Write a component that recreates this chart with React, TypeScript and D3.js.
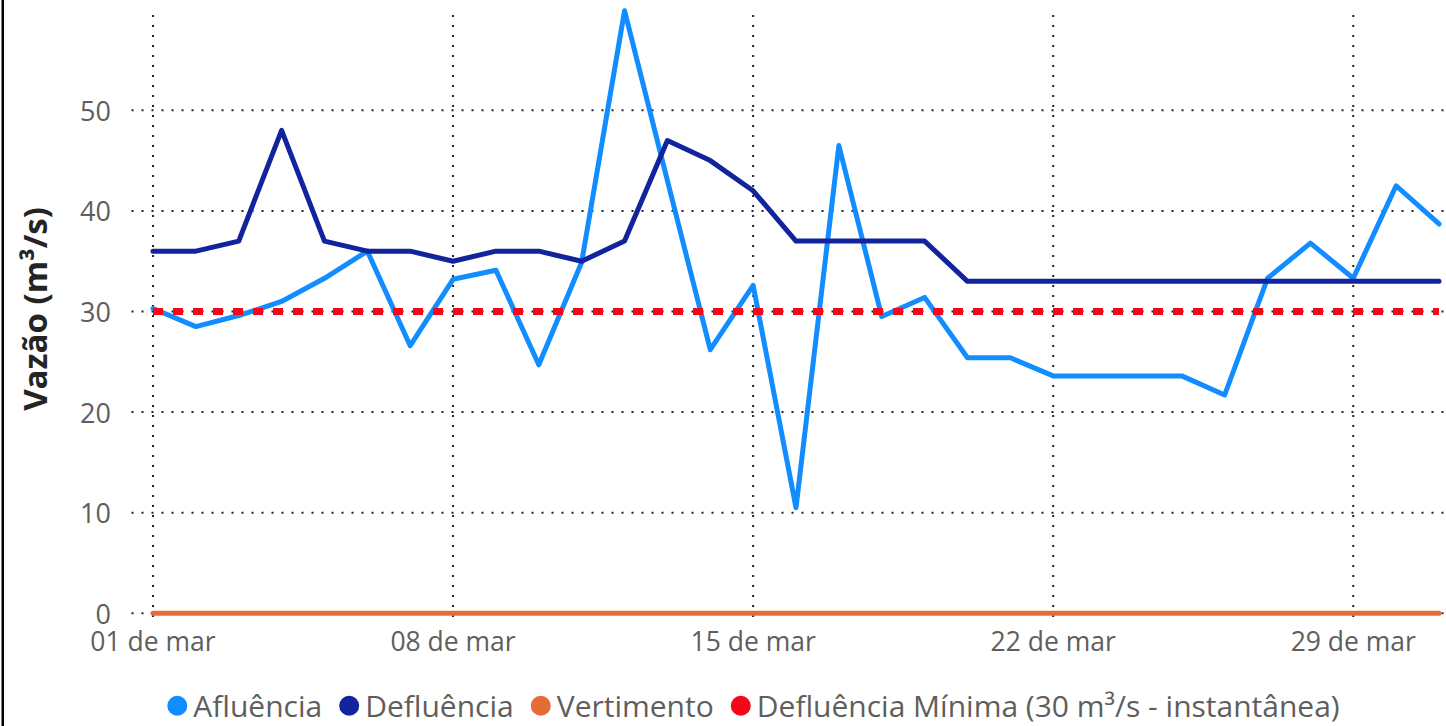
import React, { useEffect, useRef } from "react";
import * as d3 from "d3";

const days = [1, 2, 3, 4, 5, 6, 7, 8, 9, 10, 11, 12, 13, 14, 15, 16, 17, 18, 19, 20, 21, 22, 23, 24, 25, 26, 27, 28, 29, 30, 31];
const afluencia = [30.3, 28.5, 29.6, 31.0, 33.3, 36.0, 26.6, 33.2, 34.1, 24.7, 34.9, 59.9, 43.0, 26.2, 32.6, 10.5, 46.5, 29.5, 31.4, 25.4, 25.4, 23.6, 23.6, 23.6, 23.6, 21.7, 33.3, 36.8, 33.3, 42.5, 38.7];
const defluencia = [36, 36, 37, 48, 37, 36, 36, 35, 36, 36, 35, 37, 47, 45, 42, 37, 37, 37, 37, 33, 33, 33, 33, 33, 33, 33, 33, 33, 33, 33, 33];
const vertimento = [0, 0, 0, 0, 0, 0, 0, 0, 0, 0, 0, 0, 0, 0, 0, 0, 0, 0, 0, 0, 0, 0, 0, 0, 0, 0, 0, 0, 0, 0, 0];
const defluenciaMinima = [30, 30, 30, 30, 30, 30, 30, 30, 30, 30, 30, 30, 30, 30, 30, 30, 30, 30, 30, 30, 30, 30, 30, 30, 30, 30, 30, 30, 30, 30, 30];
const yTicks = [0, 10, 20, 30, 40, 50];
const xTickDays = [1, 8, 15, 22, 29];
const seriesNames = ["Afluência", "Defluência", "Vertimento", "Defluência Mínima (30 m³/s - instantânea)"];
const seriesColors = ["#118DFF", "#12239E", "#E66C37", "#F5071A"];
const yTitle = "Vazão (m³/s)";

const W = 1446;
const H = 726;
const FONT = "'Open Sans', 'Noto Sans', sans-serif";

export default function App() {
  const ref = useRef<SVGSVGElement>(null);

  useEffect(() => {
    const svg = d3.select(ref.current);
    svg.selectAll("*").remove();

    const date = (d: number) => new Date(Date.UTC(2024, 2, d));
    const x = d3.scaleUtc().domain([date(1), date(31)]).range([153, 1439]);
    const y = d3.scaleLinear().domain([0, 60]).range([613.3, 9.7]);

    svg.append("rect").attr("width", W).attr("height", H).attr("fill", "#fff");
    svg.append("rect").attr("x", 1.5).attr("y", 0).attr("width", 2.5).attr("height", H).attr("fill", "#000");

    // gridlines
    const grid = svg.append("g");
    grid.selectAll("line.h").data(yTicks).join("line")
      .attr("x1", 131.5).attr("x2", W)
      .attr("y1", (d) => y(d)).attr("y2", (d) => y(d))
      .attr("stroke", "#222").attr("stroke-width", 2).attr("stroke-dasharray", "2 8");
    grid.selectAll("line.v").data(xTickDays).join("line")
      .attr("x1", (d) => x(date(d))).attr("x2", (d) => x(date(d)))
      .attr("y1", 15).attr("y2", 617)
      .attr("stroke", "#222").attr("stroke-width", 2).attr("stroke-dasharray", "2 8");

    // y tick labels
    svg.append("g").selectAll("text").data(yTicks).join("text")
      .attr("x", 111).attr("y", (d) => y(d))
      .attr("text-anchor", "end").attr("dominant-baseline", "central")
      .attr("font-family", FONT).attr("font-size", 27).attr("fill", "#605E5C")
      .text((d) => d3.format("d")(d));

    // x tick labels
    svg.append("g").selectAll("text").data(xTickDays).join("text")
      .attr("x", (d) => x(date(d))).attr("y", 651)
      .attr("text-anchor", "middle")
      .attr("font-family", FONT).attr("font-size", 26.5).attr("fill", "#605E5C")
      .text((d) => d3.utcFormat("%d")(date(d)) + " de mar");

    // y title
    svg.append("text")
      .attr("transform", `translate(47,309) rotate(-90)`)
      .attr("text-anchor", "middle")
      .attr("font-family", FONT).attr("font-size", 33).attr("font-weight", "bold").attr("fill", "#252423")
      .text(yTitle);

    const line = d3.line<number>()
      .x((_, i) => x(date(days[i])))
      .y((v) => y(v));

    const data = [afluencia, defluencia, vertimento];
    data.forEach((vals, k) => {
      svg.append("path").datum(vals)
        .attr("d", line)
        .attr("fill", "none")
        .attr("stroke", seriesColors[k])
        .attr("stroke-width", 5)
        .attr("stroke-linejoin", "round")
        .attr("stroke-linecap", "round");
    });
    svg.append("path").datum(defluenciaMinima)
      .attr("d", line)
      .attr("fill", "none")
      .attr("stroke", seriesColors[3])
      .attr("stroke-width", 7)
      .attr("stroke-dasharray", "10 10");

    // legend
    const leg = svg.append("g");
    const items = seriesNames.map((name, i) => {
      const g = leg.append("g");
      g.append("circle").attr("cx", 10).attr("cy", 705.7).attr("r", 10).attr("fill", seriesColors[i]);
      const t = g.append("text").attr("x", 26).attr("y", 716.5)
        .attr("font-family", FONT).attr("font-size", 30).attr("fill", "#605E5C")
        .text(name);
      const w = (t.node() as SVGTextElement).getComputedTextLength();
      return { g, w: 26 + w };
    });
    const gap = 17;
    const total = d3.sum(items, (d) => d.w) + gap * (items.length - 1);
    let cur = 753.5 - total / 2;
    items.forEach((it) => {
      it.g.attr("transform", `translate(${cur},0)`);
      cur += it.w + gap;
    });
  }, []);

  return (
    <div style={{ position: "absolute", left: 0, top: 0 }}>
      <svg ref={ref} width={W} height={H} style={{ display: "block" }} />
    </div>
  );
}
